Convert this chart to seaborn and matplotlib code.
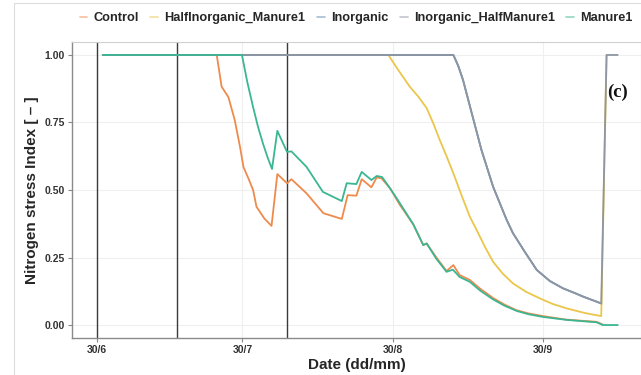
import pandas as pd
import numpy as np
import matplotlib
matplotlib.use("Agg")
import matplotlib.pyplot as plt
from matplotlib.lines import Line2D
import seaborn as sns

# ---------------- data ----------------
# x values: days after 30 June (fractional), y values: nitrogen stress index
series_names = ["Control", "HalfInorganic_Manure1", "Inorganic",
                "Inorganic_HalfManure1", "Manure1"]
series_colors = ["#EE8B4C", "#EAC64A", "#5E85B0", "#8E96A2", "#3BB692"]

control_days = [1.2, 24.7, 25.7, 27.1, 28.4, 29.5, 30.2, 31.3, 32.2, 32.9, 34.5,
                36.0, 37.2, 39.2, 40.1, 43.2, 46.7, 50.5, 51.7, 53.5, 54.6,
                56.6, 57.7, 58.7, 60.5, 62.5, 65.2, 67.3, 68.0, 70.0, 72.1,
                73.5, 74.8, 76.9, 79.0, 81.7, 84.0, 86.5, 89.0, 92.0, 96.8,
                103.0, 104.3]
control_vals = [1.0, 1.0, 0.883, 0.844, 0.76, 0.66, 0.586, 0.54, 0.50, 0.438, 0.395,
                0.367, 0.559, 0.525, 0.540, 0.488, 0.414, 0.393, 0.481, 0.479, 0.540,
                0.510, 0.547, 0.543, 0.505, 0.444, 0.374, 0.296, 0.302, 0.25, 0.200,
                0.222, 0.185, 0.167, 0.135, 0.100, 0.076, 0.055, 0.043, 0.033, 0.020,
                0.012, 0.002]

half_inorg_days = [1.2, 60.1, 62.3, 64.5, 66.3, 68.0, 69.4, 70.7, 72.1, 73.5, 75.2,
                   76.9, 78.3, 80.0, 81.7, 83.7, 85.8, 88.5, 91.3, 94.0, 96.8,
                   100.5, 104.0, 105.1]
half_inorg_vals = [1.0, 1.0, 0.94, 0.883, 0.845, 0.803, 0.745, 0.685, 0.625, 0.562, 0.48,
                   0.401, 0.352, 0.29, 0.234, 0.19, 0.154, 0.123, 0.099, 0.078, 0.062,
                   0.045, 0.033, 1.0]

inorg_days = [1.2, 73.5, 74.5, 75.5, 77.3, 79.3, 81.7, 84.5, 85.8, 88.2, 90.7,
              93.4, 96.1, 98.6, 100.3, 104.0]
inorg_vals = [1.0, 1.0, 0.96, 0.907, 0.784, 0.648, 0.512, 0.389, 0.340, 0.272, 0.204,
              0.163, 0.136, 0.118, 0.105, 0.080]

inorg_half_days = [1.2, 73.5, 74.5, 75.5, 77.3, 79.3, 81.7, 84.5, 85.8, 88.2, 90.7,
                   93.4, 96.1, 98.6, 100.3, 104.0, 105.1, 107.4]
inorg_half_vals = [1.0, 1.0, 0.96, 0.907, 0.784, 0.648, 0.512, 0.389, 0.340, 0.272, 0.204,
                   0.163, 0.136, 0.118, 0.105, 0.080, 1.0, 1.0]

manure_days = [1.2, 29.9, 31.0, 32.2, 33.2, 34.2, 35.2, 36.1, 37.2, 39.2, 40.1,
               43.2, 46.6, 50.5, 51.5, 53.5, 54.6, 56.6, 57.7, 58.8, 60.3,
               61.9, 65.2, 67.3, 68.0, 70.0, 72.1, 73.4, 74.8, 76.9, 79.0,
               81.6, 84.0, 86.6, 89.0, 92.0, 96.9, 103.1, 104.3, 107.4]
manure_vals = [1.0, 1.0, 0.90, 0.807, 0.735, 0.674, 0.62, 0.578, 0.719, 0.641, 0.643,
               0.586, 0.493, 0.459, 0.525, 0.522, 0.567, 0.537, 0.552, 0.548, 0.51,
               0.467, 0.374, 0.296, 0.302, 0.245, 0.197, 0.205, 0.178, 0.160, 0.128,
               0.096, 0.072, 0.052, 0.040, 0.030, 0.019, 0.010, 0.0, 0.0]

event_days = [0.0, 16.56, 39.2]

base_date = "2020-06-30"
tick_dates = ["2020-06-30", "2020-07-30", "2020-08-30", "2020-09-30"]
tick_labels = ["30/6", "30/7", "30/8", "30/9"]
y_ticks = [0.0, 0.25, 0.50, 0.75, 1.0]
y_tick_labels = ["0.00", "0.25", "0.50", "0.75", "1.00"]

# ---------------- build table ----------------
base = pd.Timestamp(base_date)
all_days = [control_days, half_inorg_days, inorg_days, inorg_half_days, manure_days]
all_vals = [control_vals, half_inorg_vals, inorg_vals, inorg_half_vals, manure_vals]
frames = []
for name, ds, vs in zip(series_names, all_days, all_vals):
    frames.append(pd.DataFrame({
        "Date": base + pd.to_timedelta(ds, unit="D"),
        "NSI": vs,
        "Treatment": name,
    }))
df = pd.concat(frames, ignore_index=True)

# ---------------- plot ----------------
sns.set_theme(style="white")
plt.rcParams["font.family"] = ["Liberation Sans", "DejaVu Sans"]

fig = plt.figure(figsize=(6.41, 3.75), dpi=100)
ax = fig.add_axes([72 / 641, 1 - 338 / 375, 1 - 72 / 641, (338 - 42) / 375])

palette = dict(zip(series_names, series_colors))
sns.lineplot(data=df, x="Date", y="NSI", hue="Treatment", hue_order=series_names,
             palette=palette, estimator=None, sort=False, linewidth=1.3, ax=ax,
             legend=False)
for ln in ax.get_lines():
    ln.set_solid_joinstyle("round")

for d in event_days:
    ax.axvline(base + pd.Timedelta(days=d), color="#3a3a3a", linewidth=1.0, zorder=1)

ax.set_xlim(base - pd.Timedelta(days=5.15), base + pd.Timedelta(days=112.2))
ax.set_ylim(-0.048, 1.048)

ax.set_xticks(pd.to_datetime(tick_dates))
ax.set_xticklabels(tick_labels, fontsize=7.5, fontweight="bold", color="#333333")
ax.set_yticks(y_ticks)
ax.set_yticklabels(y_tick_labels, fontsize=7.5, fontweight="bold", color="#333333")
ax.tick_params(axis="both", length=3, width=0.8, color="#888888", pad=2,
               bottom=True, left=True)

ax.grid(True, color="#EFEFEF", linewidth=0.8)
ax.set_axisbelow(True)
for side in ["left", "bottom"]:
    ax.spines[side].set_color("#8a8a8a")
    ax.spines[side].set_linewidth(1.0)
for side in ["top", "right"]:
    ax.spines[side].set_color("#d0d0d0")
    ax.spines[side].set_linewidth(0.8)

ax.set_xlabel("Date (dd/mm)", fontsize=11, fontweight="bold", labelpad=2)
ax.set_ylabel("Nitrogen stress Index [ \u2013 ]", fontsize=11, fontweight="bold", labelpad=4)

ax.text(617 / 641, 1 - 92 / 375, "(c)", transform=fig.transFigure, fontsize=13.5,
        fontweight="bold", family="Liberation Serif", ha="center", va="center",
        color="#111111")

# legend
handles = [Line2D([0], [0], color=c, linewidth=1.2, alpha=0.55) for c in series_colors]
fig.legend(handles, series_names, loc="center left", bbox_to_anchor=(68 / 641, 1 - 18 / 375),
           ncol=5, frameon=False, handlelength=0.6, handletextpad=0.5, columnspacing=0.9,
           prop={"weight": "bold", "size": 9.2})

# faint outer frame
fig.add_artist(Line2D([14 / 641, 14 / 641], [0, 1 - 3 / 375], transform=fig.transFigure,
                      color="#dddddd", linewidth=0.8))
fig.add_artist(Line2D([14 / 641, 1], [1 - 3 / 375, 1 - 3 / 375], transform=fig.transFigure,
                      color="#dddddd", linewidth=0.8))

fig.savefig("out.png", dpi=100)
